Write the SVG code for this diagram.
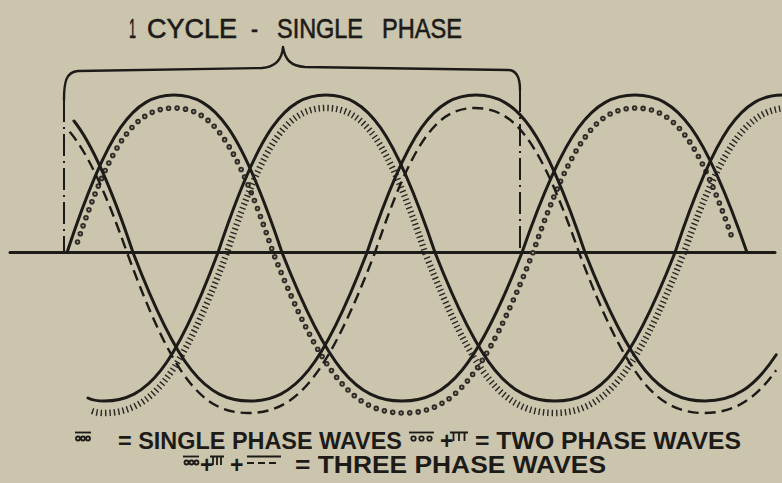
<svg xmlns="http://www.w3.org/2000/svg" width="782" height="483" viewBox="0 0 782 483">
<style>
.ink{fill:none;stroke:#1d1b18;stroke-linecap:round;stroke-linejoin:round}
.solid{stroke-width:3}
.dash{stroke-width:2.4;stroke-dasharray:11 6;stroke-linecap:butt}
.hatch{fill:none;stroke:#2a2723;stroke-width:6.5;stroke-dasharray:1.4 3}
.dotO{fill:none;stroke:#2f2c28;stroke-width:5.6;stroke-dasharray:0 8.5;stroke-linecap:round}
.dotI{fill:none;stroke:#a39d8b;stroke-width:2;stroke-dasharray:0 8.5;stroke-linecap:round}
.dashdot{fill:none;stroke:#1d1b18;stroke-width:2;stroke-dasharray:22 5 2 5}
.txt{font-family:"Liberation Sans",Arial,sans-serif;fill:#1d1b18}
.sym{fill:none;stroke:#1d1b18;stroke-width:1.8}
</style>
<rect width="782" height="483" fill="#cbc5ae"/>

<g id="axis">
<path class="ink solid" d="M10,252.5 H775"/>
</g>

<g id="cycle-bracket">
<path class="ink" stroke-width="2.4" d="M64,100 C64,82 66,72 78,71 L262,68 C275,67 282,60 283,47 C285,60 291,66 305,67 L508,70 C516,70 520,76 520,90"/>
<path class="dashdot" d="M64,100 V252"/>
<path class="dashdot" d="M520,90 V252"/>
</g>

<g id="title">
<text class="txt" font-size="27" y="38" stroke="#1d1b18" stroke-width="0.6"><tspan x="129" textLength="7" lengthAdjust="spacingAndGlyphs">1</tspan> <tspan x="147" textLength="90" lengthAdjust="spacingAndGlyphs">CYCLE</tspan> <tspan x="251" textLength="7" lengthAdjust="spacingAndGlyphs">-</tspan> <tspan x="277" textLength="86" lengthAdjust="spacingAndGlyphs">SINGLE</tspan> <tspan x="382" textLength="80" lengthAdjust="spacingAndGlyphs">PHASE</tspan></text>
</g>

<g id="waves">
<g id="phase-a">
<path class="ink solid" d="M67,252.5 C107.66,129.65 133.34,95 174,95 C215.04,95 240.96,129.65 282,252.5 C327.6,368.33 356.4,401 402,401 C447.6,401 476.4,368.33 522,252.5 C564.94,129.65 592.06,95 635,95 C677.56,95 704.44,129.65 747,252.5"/>
<path class="dotO" d="M77.5,242 C112,139.79 136,108 174,108 C211.62,108 235.38,139.79 273,252.5 C322.78,377.69 354.22,413 404,413 C453.02,413 483.98,377.69 533,252.5 C572.14,139.79 596.86,108 636,108 C674.38,108 698.62,139.79 733.5,242"/>
<path class="dotI" d="M77.5,242 C112,139.79 136,108 174,108 C211.62,108 235.38,139.79 273,252.5 C322.78,377.69 354.22,413 404,413 C453.02,413 483.98,377.69 533,252.5 C572.14,139.79 596.86,108 636,108 C674.38,108 698.62,139.79 733.5,242"/>
</g>
<g id="phase-b">
<path class="ink solid" d="M88,398 C93,400.5 98,401 104,401 C147.32,401 174.68,368.33 218,252.5 C259.04,129.65 284.96,95 326,95 C367.42,95 393.58,129.65 435,252.5 C480.6,368.33 509.4,401 555,401 C600.6,401 629.4,368.33 675,252.5 C716.04,129.65 741.96,95 783,95"/>
<path class="hatch" d="M92,411 C96,412.5 100,413 104,413 C150.74,413 180.26,377.69 227,252.5 C264.62,139.79 288.38,108 326,108 C363.62,108 387.38,139.79 425,252.5 C474.02,377.69 504.98,413 554,413 C603.4,413 634.6,377.69 684,252.5 C724.28,139.79 749.72,108 790,108"/>
</g>
<g id="phase-c">
<path class="ink solid" d="M74,121 C92.46,144.12 110.43,184.93 133,252.5 C177.46,368.33 205.54,401 250,401 C294.46,401 322.54,368.33 367,252.5 C408.42,129.65 434.58,95 476,95 C517.42,95 543.58,129.65 585,252.5 C630.6,368.33 659.4,401 705,401 C732.36,401 753.7,389.2 776.2,354.8"/>
<path class="ink dash" d="M69.7,131.8 C87.65,153.01 105.05,190.51 127,252.5 C172.98,377.69 202.02,413 248,413 C296.26,413 326.74,377.69 375,252.5 C413,139.79 437,108 475,108 C514.52,108 539.48,139.79 579,252.5 C626.5,377.69 656.5,413 704,413 C731.66,413 753.56,401.93 776.2,370.2"/>
</g>
</g>

<g id="legend">
<g id="legend-line1">
<path class="sym" d="M75,432.5 H91"/>
<circle class="sym" stroke-width="1.5" cx="78" cy="438.5" r="2"/>
<circle class="sym" stroke-width="1.5" cx="83" cy="438.5" r="2"/>
<circle class="sym" stroke-width="1.5" cx="88" cy="438.5" r="2"/>
<path class="sym" d="M409,432.5 H434"/>
<circle class="sym" stroke-width="1.5" cx="413.5" cy="438.5" r="2.2"/>
<circle class="sym" stroke-width="1.5" cx="421.5" cy="438.5" r="2.2"/>
<circle class="sym" stroke-width="1.5" cx="429.5" cy="438.5" r="2.2"/>
<path class="sym" d="M450,432.5 H468 M453.5,433 V441 M459,433 V441 M464.5,433 V441"/>
<text class="txt" font-size="23" font-weight="bold" y="449"><tspan x="118" textLength="284" lengthAdjust="spacingAndGlyphs">= SINGLE PHASE WAVES</tspan><tspan x="440">+</tspan><tspan x="475" textLength="266" lengthAdjust="spacingAndGlyphs">= TWO PHASE WAVES</tspan></text>
</g>
<g id="legend-line2">
<path class="sym" d="M183,456.5 H199"/>
<circle class="sym" stroke-width="1.5" cx="186.5" cy="462.5" r="2"/>
<circle class="sym" stroke-width="1.5" cx="191.5" cy="462.5" r="2"/>
<circle class="sym" stroke-width="1.5" cx="196.5" cy="462.5" r="2"/>
<path class="sym" d="M210,456.5 H224 M213,457 V465 M217,457 V465 M221,457 V465"/>
<path class="sym" d="M247,456.5 H281 M247,463 H254 M258,463 H265 M269,463 H276"/>
<text class="txt" font-size="23" font-weight="bold" y="473"><tspan x="200">+</tspan><tspan x="230">+</tspan><tspan x="295" textLength="311" lengthAdjust="spacingAndGlyphs">= THREE PHASE WAVES</tspan></text>
</g>
</g>
</svg>
